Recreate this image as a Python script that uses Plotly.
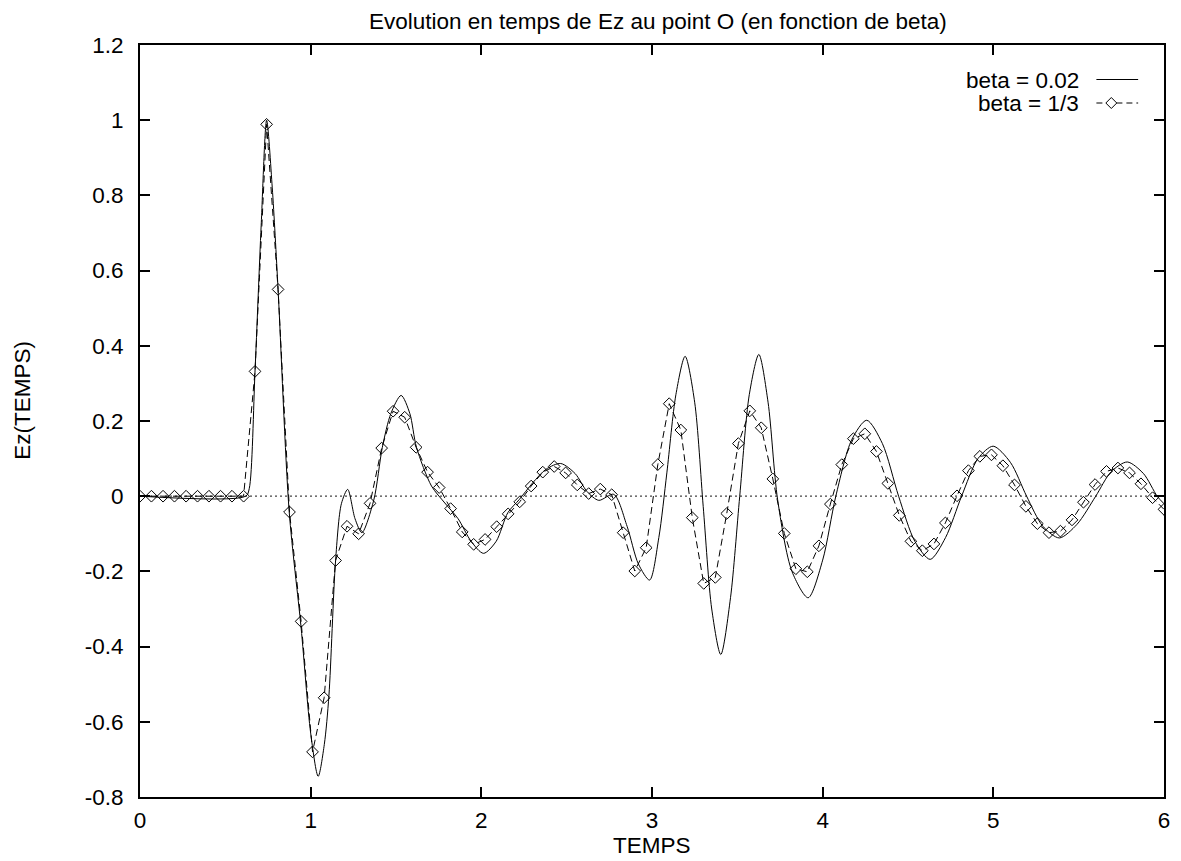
import plotly.graph_objects as go

# ---- data ----
t_beta13 = [0.000, 0.067, 0.135, 0.202, 0.270, 0.337, 0.404, 0.472, 0.539, 0.607,
            0.674, 0.742, 0.809, 0.876, 0.944, 1.011, 1.079, 1.146, 1.213, 1.281,
            1.348, 1.416, 1.483, 1.551, 1.618, 1.685, 1.753, 1.820, 1.888, 1.955,
            2.022, 2.090, 2.157, 2.225, 2.292, 2.360, 2.427, 2.494, 2.562, 2.629,
            2.697, 2.764, 2.831, 2.899, 2.966, 3.034, 3.101, 3.169, 3.236, 3.303,
            3.371, 3.438, 3.506, 3.573, 3.640, 3.708, 3.775, 3.843, 3.910, 3.978,
            4.045, 4.112, 4.180, 4.247, 4.315, 4.382, 4.449, 4.517, 4.584, 4.652,
            4.719, 4.787, 4.854, 4.921, 4.989, 5.056, 5.124, 5.191, 5.258, 5.326,
            5.393, 5.461, 5.528, 5.596, 5.663, 5.730, 5.798, 5.865, 5.933, 6.000]
ez_beta13 = [0, 0, 0, 0, 0, 0, 0, 0, 0, 0,
             0.332, 0.989, 0.550, -0.042, -0.333, -0.680, -0.536, -0.171, -0.080, -0.100,
             -0.019, 0.128, 0.226, 0.210, 0.130, 0.064, 0.023, -0.033, -0.095, -0.128,
             -0.115, -0.081, -0.047, -0.015, 0.027, 0.064, 0.079, 0.062, 0.030, 0.007,
             0.019, 0.004, -0.097, -0.199, -0.137, 0.084, 0.246, 0.176, -0.057, -0.232,
             -0.216, -0.046, 0.140, 0.227, 0.182, 0.046, -0.099, -0.193, -0.201, -0.132,
             -0.021, 0.084, 0.153, 0.166, 0.119, 0.034, -0.051, -0.120, -0.145, -0.127,
             -0.071, 0.001, 0.068, 0.106, 0.110, 0.081, 0.030, -0.027, -0.073, -0.097,
             -0.093, -0.063, -0.016, 0.031, 0.066, 0.075, 0.062, 0.033, -0.004, -0.035]

t_beta002 = [0.0, 0.62, 0.64, 0.674, 0.71, 0.742, 0.775, 0.809, 0.874, 0.944,
             1.00, 1.044, 1.08, 1.107, 1.146, 1.18, 1.217, 1.26, 1.30, 1.37,
             1.42, 1.47, 1.53, 1.581, 1.62, 1.708, 1.786, 1.864, 1.94, 2.013,
             2.087, 2.155, 2.222, 2.30, 2.38, 2.465, 2.55, 2.62, 2.688, 2.776,
             2.854, 2.92, 2.986, 3.04, 3.087, 3.14, 3.194, 3.25, 3.30, 3.35,
             3.403, 3.46, 3.514, 3.57, 3.626, 3.68, 3.736, 3.82, 3.915, 4.0,
             4.077, 4.17, 4.258, 4.35, 4.445, 4.54, 4.63, 4.72, 4.814, 4.91,
             4.999, 5.10, 5.195, 5.29, 5.387, 5.49, 5.60, 5.69, 5.785, 5.88,
             5.96, 6.0]
ez_beta002 = [0.0, 0.0, 0.02, 0.333, 0.72, 1.0, 0.82, 0.55, -0.04, -0.35,
              -0.63, -0.745, -0.66, -0.53, -0.171, -0.02, 0.018, -0.06, -0.097, -0.01,
              0.13, 0.22, 0.268, 0.22, 0.13, 0.027, -0.018, -0.06, -0.12, -0.152,
              -0.12, -0.044, -0.009, 0.035, 0.072, 0.087, 0.06, 0.012, -0.011, 0.005,
              -0.08, -0.18, -0.223, -0.11, 0.062, 0.27, 0.372, 0.25, -0.027, -0.30,
              -0.421, -0.27, 0.0, 0.27, 0.377, 0.25, -0.009, -0.20, -0.27, -0.17,
              0.0, 0.15, 0.202, 0.14, 0.0, -0.12, -0.168, -0.11, 0.0, 0.10,
              0.133, 0.09, 0.0, -0.08, -0.111, -0.075, 0.0, 0.065, 0.091, 0.06,
              0.0, -0.02]

x_tickvals = [0, 1, 2, 3, 4, 5, 6]
x_ticktext = ["0", "1", "2", "3", "4", "5", "6"]
y_tickvals = [-0.8, -0.6, -0.4, -0.2, 0, 0.2, 0.4, 0.6, 0.8, 1.0, 1.2]
y_ticktext = ["-0.8", "-0.6", "-0.4", "-0.2", "0", "0.2", "0.4", "0.6", "0.8", "1", "1.2"]

legend_labels = ["beta = 0.02", "beta = 1/3"]
title_text = "Evolution en temps de Ez au point O (en fonction de beta)"
xlabel = "TEMPS"
ylabel = "Ez(TEMPS)"

FONT = "Liberation Sans, Arial, Helvetica, sans-serif"
FS = 22.5

fig = go.Figure()
fig.add_trace(go.Scatter(x=t_beta002, y=ez_beta002, mode="lines",
                         line=dict(color="black", width=1, shape="spline", smoothing=0.8),
                         showlegend=False, hoverinfo="skip"))
fig.add_trace(go.Scatter(x=t_beta13, y=ez_beta13, mode="lines+markers",
                         line=dict(color="black", width=1, dash="7px,4px"),
                         marker=dict(symbol="diamond-open", size=9, color="black",
                                     line=dict(width=1, color="black")),
                         showlegend=False, hoverinfo="skip"))

W, H = 1181, 861
L, R, T, B = 140, 11, 45, 64
pw, ph = W - L - R, H - T - B

def px(xp):
    return (xp - L) / pw

def py(yp):
    return 1 - (yp - T) / ph

shapes = [
    dict(type="line", xref="x", yref="y", x0=0, x1=6, y0=0, y1=0,
         line=dict(color="#444", width=1.3, dash="2px,3px"), layer="below"),
    # legend samples
    dict(type="line", xref="paper", yref="paper", x0=px(1102), x1=px(1144),
         y0=py(79.5), y1=py(79.5), line=dict(color="black", width=1)),
    dict(type="line", xref="paper", yref="paper", x0=px(1102), x1=px(1144),
         y0=py(103), y1=py(103), line=dict(color="black", width=1, dash="6px,4px")),
]
# legend diamond (decorative glyph)
cx, cy, r = 1117, 103, 5.5
shapes.append(dict(type="path", xref="paper", yref="paper",
                   path=f"M {px(cx - r)} {py(cy)} L {px(cx)} {py(cy - r)} L {px(cx + r)} {py(cy)} L {px(cx)} {py(cy + r)} Z",
                   line=dict(color="black", width=1), fillcolor="white"))

annotations = [
    dict(text=title_text, xref="paper", yref="paper", x=px(661), y=py(22),
         xanchor="center", yanchor="middle", showarrow=False,
         font=dict(family=FONT, size=FS, color="black")),
    dict(text=xlabel, xref="paper", yref="paper", x=px(655), y=py(845),
         xanchor="center", yanchor="middle", showarrow=False,
         font=dict(family=FONT, size=FS, color="black")),
    dict(text=ylabel, xref="paper", yref="paper", x=px(22), y=py(400),
         xanchor="center", yanchor="middle", showarrow=False, textangle=-90,
         font=dict(family=FONT, size=FS, color="black")),
    dict(text=legend_labels[0], xref="paper", yref="paper", x=px(1087), y=py(80),
         xanchor="right", yanchor="middle", showarrow=False,
         font=dict(family=FONT, size=FS, color="black")),
    dict(text=legend_labels[1], xref="paper", yref="paper", x=px(1087), y=py(103.5),
         xanchor="right", yanchor="middle", showarrow=False,
         font=dict(family=FONT, size=FS, color="black")),
]

axis_common = dict(showgrid=False, zeroline=False, showline=True, linecolor="black",
                   linewidth=2, mirror="ticks", ticks="inside", ticklen=10,
                   tickwidth=2, tickcolor="black",
                   tickfont=dict(family=FONT, size=FS, color="black"))

fig.update_layout(
    width=W, height=H,
    margin=dict(l=L, r=R, t=T, b=B, pad=0),
    paper_bgcolor="white", plot_bgcolor="white",
    showlegend=False,
    shapes=shapes, annotations=annotations,
    xaxis=dict(range=[0, 6], tickvals=x_tickvals, ticktext=x_ticktext,
               ticklabelstandoff=2, **axis_common),
    yaxis=dict(range=[-0.8, 1.2], tickvals=y_tickvals, ticktext=y_ticktext,
               ticklabelstandoff=10, **axis_common),
)

fig.write_html("out.html")
